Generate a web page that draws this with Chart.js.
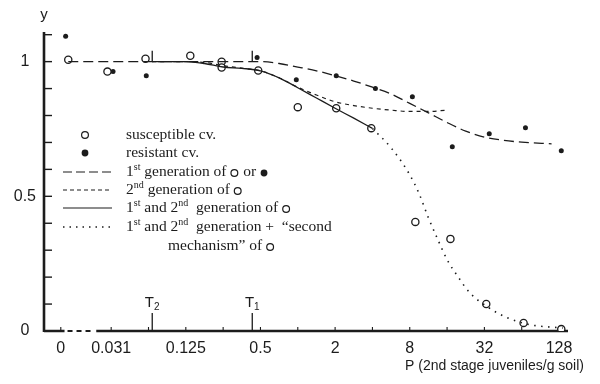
<!DOCTYPE html>
<html>
<head>
<meta charset="utf-8">
<script src="https://cdn.jsdelivr.net/npm/chart.js@4/dist/chart.umd.min.js"></script>
<style>
  html, body { margin: 0; padding: 0; background: #fff; }
</style>
</head>
<body>
<canvas id="chart" width="600" height="384"></canvas>
<script>
// x values are log2(P); P = 0 is placed left of the axis break
const xTickPos = [-6.35, -5, -3, -1, 1, 3, 5, 7];
const xTickLabels = ['0', '0.031', '0.125', '0.5', '2', '8', '32', '128'];
const xMinorTicks = [-6.35, -5, -4, -3, -2, -1, 0, 1, 2, 3, 4, 5, 6, 7];
const yTickPos = [0, 0.5, 1];
const yTickLabels = ['0', '0.5', '1'];
const yMinorTicks = [0, 0.1, 0.2, 0.3, 0.4, 0.5, 0.6, 0.7, 0.8, 0.9, 1.0, 1.1];
const axisBreak = [-6.25, -5.4];

const thresholds = [
    { name: 'T', sub: '2', x: -3.9 },
    { name: 'T', sub: '1', x: -1.22 }
];

// observed points
const susX = [-6.15, -5.1, -4.08, -2.88, -2.04, -2.04, -1.06, 0, 1.03, 1.97, 3.15, 4.09, 5.05, 6.05, 7.06];
const susY = [1.007, 0.963, 1.011, 1.022, 1.0, 0.978, 0.967, 0.831, 0.827, 0.753, 0.405, 0.342, 0.100, 0.030, 0.007];
const resX = [-6.22, -4.95, -4.06, -1.09, -0.04, 1.03, 2.08, 3.07, 4.14, 5.13, 6.1, 7.06];
const resY = [1.094, 0.963, 0.948, 1.015, 0.933, 0.948, 0.9, 0.87, 0.684, 0.732, 0.755, 0.669];

// model curves
const gen1X = [-6.15, -5, -4, -3, -2, -1, -0.5, 0, 0.5, 1, 1.5, 2, 2.5, 3, 3.5, 4, 4.5, 5, 5.5, 6, 6.8];
const gen1Y = [1, 1, 1, 1, 1, 1, 0.993, 0.98, 0.966, 0.948, 0.928, 0.905, 0.88, 0.845, 0.81, 0.774, 0.742, 0.72, 0.708, 0.701, 0.695];
const gen2X = [-3.9, -3, -2.5, -2, -1.5, -1, -0.5, 0, 0.5, 1, 1.5, 2, 2.5, 3, 3.5, 4];
const gen2Y = [1, 1, 0.997, 0.985, 0.976, 0.966, 0.94, 0.905, 0.876, 0.851, 0.837, 0.827, 0.82, 0.815, 0.815, 0.82];
const gen12X = [-3.9, -3, -2.5, -2, -1.5, -1, -0.5, 0, 0.5, 1, 1.5, 2];
const gen12Y = [1, 1, 0.993, 0.98, 0.975, 0.966, 0.94, 0.903, 0.865, 0.827, 0.79, 0.752];
const mechX = [2, 2.5, 3, 3.25, 3.5, 3.75, 4, 4.3, 4.6, 5.1, 5.6, 6.2, 7.1];
const mechY = [0.752, 0.68, 0.58, 0.51, 0.42, 0.34, 0.265, 0.2, 0.143, 0.088, 0.05, 0.024, 0.011];

const ink = '#1c1c1c';
const sans = '"Liberation Sans", Arial, sans-serif';
const serif = '"Liberation Serif", "Times New Roman", serif';

const legendRows = [
    { y: 135, sym: 'open', segs: [{ t: 'susceptible cv.' }] },
    { y: 153, sym: 'filled', segs: [{ t: 'resistant cv.' }] },
    { y: 172, dash: [9, 4], segs: [{ t: '1' }, { sup: 'st' }, { t: ' generation of ' }, { sym: 'open' }, { t: ' or ' }, { sym: 'filled' }] },
    { y: 190, dash: [4, 3], segs: [{ t: '2' }, { sup: 'nd' }, { t: ' generation of ' }, { sym: 'open' }] },
    { y: 208, dash: [], segs: [{ t: '1' }, { sup: 'st' }, { t: ' and 2' }, { sup: 'nd' }, { t: '  generation of ' }, { sym: 'open' }] },
    { y: 227, dash: [1.5, 5], segs: [{ t: '1' }, { sup: 'st' }, { t: ' and 2' }, { sup: 'nd' }, { t: '  generation +  \u201Csecond' }] },
    { y: 246, indent: 168, segs: [{ t: 'mechanism\u201D of ' }, { sym: 'open' }] }
];

function toPoints(xs, ys) {
    return xs.map((x, i) => ({ x: x, y: ys[i] }));
}

function drawSymbol(ctx, kind, x, y) {
    ctx.save();
    ctx.beginPath();
    ctx.arc(x, y, 3.4, 0, Math.PI * 2);
    if (kind === 'open') {
        ctx.lineWidth = 1.2;
        ctx.strokeStyle = ink;
        ctx.stroke();
    } else {
        ctx.fillStyle = ink;
        ctx.fill();
    }
    ctx.restore();
}

function drawSegments(ctx, x, y, segs) {
    let cx = x;
    segs.forEach(s => {
        if (s.sup) {
            ctx.font = '10px ' + serif;
            ctx.fillText(s.sup, cx, y - 5);
            cx += ctx.measureText(s.sup).width;
        } else if (s.sym) {
            drawSymbol(ctx, s.sym, cx + 4, y + 1);
            cx += 9;
        } else {
            ctx.font = '15.5px ' + serif;
            ctx.fillText(s.t, cx, y);
            cx += ctx.measureText(s.t).width;
        }
    });
}

const paperPlugin = {
    id: 'paper',
    beforeDatasetsDraw(chart) {
        const ctx = chart.ctx;
        const xs = chart.scales.x;
        const ys = chart.scales.y;
        const area = chart.chartArea;
        const y0 = ys.getPixelForValue(0);
        ctx.save();
        ctx.strokeStyle = ink;
        ctx.lineCap = 'butt';

        // y axis
        ctx.lineWidth = 2.6;
        ctx.beginPath();
        ctx.moveTo(area.left, area.top);
        ctx.lineTo(area.left, y0 + 1);
        ctx.stroke();
        ctx.lineWidth = 1.4;
        yMinorTicks.forEach(v => {
            const py = ys.getPixelForValue(v);
            ctx.beginPath();
            ctx.moveTo(area.left, py);
            ctx.lineTo(area.left + 8, py);
            ctx.stroke();
        });

        // x axis with break near zero
        const b0 = xs.getPixelForValue(axisBreak[0]);
        const b1 = xs.getPixelForValue(axisBreak[1]);
        ctx.lineWidth = 2.4;
        ctx.beginPath();
        ctx.moveTo(area.left, y0);
        ctx.lineTo(b0, y0);
        ctx.moveTo(b1, y0);
        ctx.lineTo(area.right, y0);
        ctx.stroke();
        ctx.lineWidth = 1.8;
        ctx.setLineDash([5, 4]);
        ctx.beginPath();
        ctx.moveTo(b0 + 3, y0);
        ctx.lineTo(b1 - 2, y0);
        ctx.stroke();
        ctx.setLineDash([]);

        ctx.lineWidth = 1.1;
        xMinorTicks.forEach(v => {
            const px = xs.getPixelForValue(v);
            ctx.beginPath();
            ctx.moveTo(px, y0);
            ctx.lineTo(px, y0 - 4);
            ctx.stroke();
        });

        // thresholds: marks on the axis and above the plateau
        const yTop0 = ys.getPixelForValue(1);
        ctx.lineWidth = 1.3;
        thresholds.forEach(t => {
            const px = xs.getPixelForValue(t.x);
            ctx.beginPath();
            ctx.moveTo(px, y0);
            ctx.lineTo(px, y0 - 18);
            ctx.moveTo(px, yTop0);
            ctx.lineTo(px, yTop0 - 11);
            ctx.stroke();
        });
        ctx.restore();
    },
    afterDraw(chart) {
        const ctx = chart.ctx;
        const xs = chart.scales.x;
        const ys = chart.scales.y;
        const y0 = ys.getPixelForValue(0);
        ctx.save();
        ctx.fillStyle = ink;
        ctx.textBaseline = 'middle';

        // threshold labels
        thresholds.forEach(t => {
            const px = xs.getPixelForValue(t.x);
            ctx.font = '15px ' + sans;
            const wT = ctx.measureText(t.name).width;
            ctx.font = '10px ' + sans;
            const wS = ctx.measureText(t.sub).width;
            const left = px - (wT + wS) / 2;
            ctx.font = '15px ' + sans;
            ctx.textAlign = 'left';
            ctx.fillText(t.name, left, y0 - 28);
            ctx.font = '10px ' + sans;
            ctx.fillText(t.sub, left + wT, y0 - 24);
        });

        // axis names
        ctx.font = '15px ' + sans;
        ctx.textAlign = 'center';
        ctx.fillText('y', chart.chartArea.left, 15);
        ctx.font = '14px ' + sans;
        ctx.textAlign = 'right';
        ctx.fillText('P (2nd stage juveniles/g soil)', 584, 366);

        // legend
        ctx.textAlign = 'left';
        legendRows.forEach(row => {
            if (row.sym) {
                drawSymbol(ctx, row.sym, 85, row.y);
            } else if (row.dash) {
                ctx.save();
                ctx.strokeStyle = ink;
                ctx.lineWidth = row.dash.length && row.dash[0] < 2 ? 1.5 : 1.2;
                ctx.setLineDash(row.dash);
                ctx.beginPath();
                ctx.moveTo(63, row.y);
                ctx.lineTo(112, row.y);
                ctx.stroke();
                ctx.restore();
            }
            drawSegments(ctx, row.indent || 126, row.y, row.segs);
        });
        ctx.restore();
    }
};

const curveStyle = {
    showLine: true,
    pointRadius: 0,
    borderColor: ink,
    borderWidth: 1.3,
    fill: false,
    cubicInterpolationMode: 'monotone'
};

new Chart(document.getElementById('chart'), {
    type: 'scatter',
    data: {
        datasets: [
            { ...curveStyle, label: '1st generation', data: toPoints(gen1X, gen1Y), borderDash: [10, 5] },
            { ...curveStyle, label: '2nd generation', data: toPoints(gen2X, gen2Y), borderDash: [4, 4], borderWidth: 1.2 },
            { ...curveStyle, label: '1st and 2nd generation', data: toPoints(gen12X, gen12Y) },
            { ...curveStyle, label: 'second mechanism', data: toPoints(mechX, mechY), borderDash: [1.5, 5.5], borderWidth: 1.6 },
            {
                label: 'susceptible cv.',
                data: toPoints(susX, susY),
                pointRadius: 3.6,
                pointBorderWidth: 1.3,
                pointBorderColor: ink,
                pointBackgroundColor: '#ffffff'
            },
            {
                label: 'resistant cv.',
                data: toPoints(resX, resY),
                pointRadius: 2.5,
                pointBorderWidth: 0,
                pointBackgroundColor: ink
            }
        ]
    },
    options: {
        responsive: false,
        animation: false,
        layout: { padding: { top: 32, right: 32, left: 0, bottom: 0 } },
        plugins: {
            legend: { display: false },
            tooltip: { enabled: false }
        },
        scales: {
            x: {
                type: 'linear',
                min: -6.8,
                max: 7.24,
                grid: { display: false, drawTicks: false },
                border: { display: false },
                afterBuildTicks: scale => { scale.ticks = xTickPos.map(v => ({ value: v })); },
                afterFit: scale => { scale.height = 53; },
                ticks: {
                    autoSkip: false,
                    maxRotation: 0,
                    padding: 8,
                    color: ink,
                    font: { family: sans, size: 16 },
                    callback: (v, i) => xTickLabels[i]
                }
            },
            y: {
                type: 'linear',
                min: 0,
                max: 1.11,
                grid: { display: false, drawTicks: false },
                border: { display: false },
                afterBuildTicks: scale => { scale.ticks = yTickPos.map(v => ({ value: v })); },
                afterFit: scale => { scale.width = 44; },
                ticks: {
                    padding: 8,
                    crossAlign: 'center',
                    color: ink,
                    font: { family: sans, size: 16 },
                    callback: (v, i) => yTickLabels[i]
                }
            }
        }
    },
    plugins: [paperPlugin]
});
</script>
</body>
</html>
